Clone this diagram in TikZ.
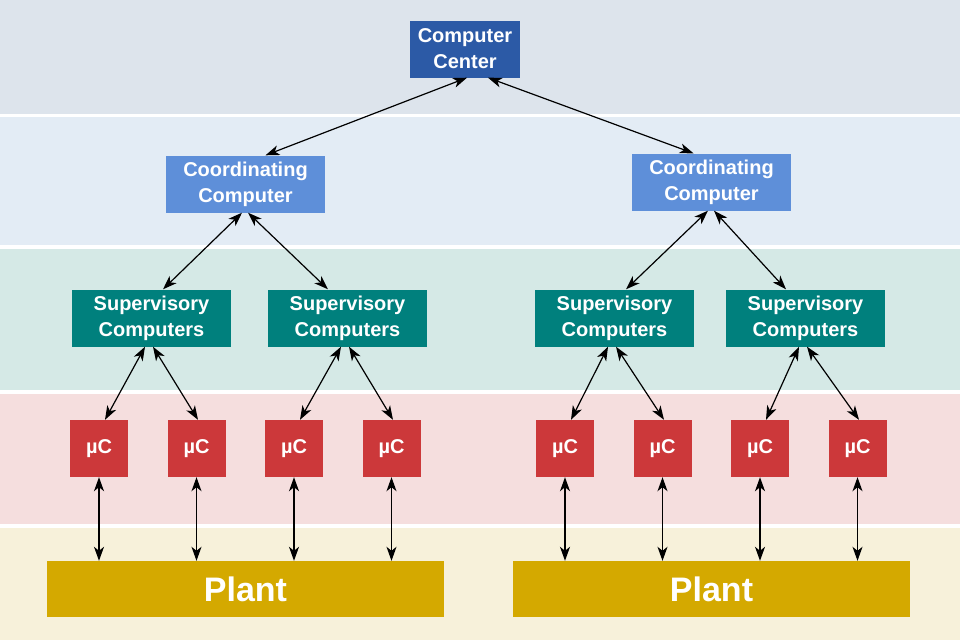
\documentclass[tikz,border=0pt]{standalone}
\usepackage{fontspec}
\setmainfont{Liberation Sans}
\usetikzlibrary{arrows.meta}
\definecolor{bandtop}{HTML}{DDE4EC}
\definecolor{bandcoord}{HTML}{E3ECF5}
\definecolor{bandsup}{HTML}{D5E9E6}
\definecolor{bandmc}{HTML}{F5DEDE}
\definecolor{bandplant}{HTML}{F7F1DA}
\definecolor{ccblue}{HTML}{2C5AA6}
\definecolor{coordblue}{HTML}{5E8FD9}
\definecolor{supteal}{HTML}{00807D}
\definecolor{mcred}{HTML}{CC383A}
\definecolor{plantgold}{HTML}{D4A900}
\begin{document}
\begin{tikzpicture}[x=1pt,y=-1pt,
  box/.style={text=white, font=\bfseries\fontsize{20}{26}\selectfont,
    align=center, inner sep=0pt, minimum height=57pt},
  link/.style={{Stealth[length=14pt,width=10pt,inset=4pt]}-{Stealth[length=14pt,width=10pt,inset=4pt]},
    line width=1.2pt}]
  % background bands
  \fill[white] (0,0) rectangle (960,640);
  \fill[bandtop] (0,0) rectangle (960,114);
  \fill[bandcoord] (0,117) rectangle (960,245);
  \fill[bandsup] (0,249) rectangle (960,390);
  \fill[bandmc] (0,394) rectangle (960,524);
  \fill[bandplant] (0,528) rectangle (960,640);
  % computer center
  \node[box, fill=ccblue, minimum width=110pt] (cc) at (465,49) {Computer\\Center};
  % coordinating computers
  \node[box, fill=coordblue, minimum width=159pt] (coordL) at (245.5,184) {Coordinating\\Computer};
  \node[box, fill=coordblue, minimum width=159pt] (coordR) at (711.5,182) {Coordinating\\Computer};
  % supervisory computers
  \foreach \i/\x in {1/151.5, 2/347.5, 3/614.5, 4/805.5}
    \node[box, fill=supteal, minimum width=159pt] (sup\i) at (\x,318) {Supervisory\\Computers};
  % micro controllers
  \foreach \i/\x in {1/99, 2/196.5, 3/294, 4/391.5, 5/565, 6/662.5, 7/760, 8/857.5}
    \node[box, fill=mcred, minimum width=58pt] (mc\i) at (\x,448.5) {µC};
  % plants
  \node[box, fill=plantgold, minimum width=397pt, minimum height=56pt,
    font=\bfseries\fontsize{34}{40}\selectfont] (plantL) at (245.5,589) {Plant};
  \node[box, fill=plantgold, minimum width=397pt, minimum height=56pt,
    font=\bfseries\fontsize{34}{40}\selectfont] (plantR) at (711.5,589) {Plant};
  % center to coordinating
  \draw[link] ([xshift=2pt]cc.south) -- ([xshift=20pt]coordL.north);
  \draw[link] ([xshift=23pt]cc.south) -- ([xshift=-18pt]coordR.north);
  % coordinating to supervisory
  \draw[link] ([xshift=-3.5pt]coordL.south) -- ([xshift=11.5pt]sup1.north);
  \draw[link] ([xshift=2.5pt]coordL.south) -- ([xshift=-19.5pt]sup2.north);
  \draw[link] ([xshift=-3.5pt]coordR.south) -- ([xshift=11.5pt]sup3.north);
  \draw[link] ([xshift=2.5pt]coordR.south) -- ([xshift=-19.5pt]sup4.north);
  % supervisory to micro controllers
  \foreach \s/\a/\b in {1/1/2, 2/3/4, 3/5/6, 4/7/8} {
    \draw[link] ([xshift=-6.5pt]sup\s.south) -- ([xshift=6pt]mc\a.north);
    \draw[link] ([xshift=1.5pt]sup\s.south) -- ([xshift=1.5pt]mc\b.north);
  }
  % micro controllers to plants
  \foreach \i in {1,...,4}
    \draw[link] (mc\i.south) -- (mc\i.south |- plantL.north);
  \foreach \i in {5,...,8}
    \draw[link] (mc\i.south) -- (mc\i.south |- plantR.north);
\end{tikzpicture}
\end{document}
